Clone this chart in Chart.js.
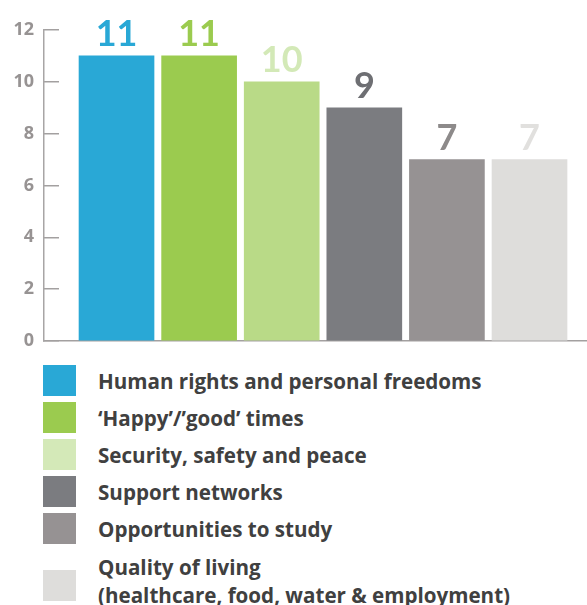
<!DOCTYPE html>
<html>
<head>
<meta charset="utf-8">
<script src="https://cdn.jsdelivr.net/npm/chart.js@4/dist/chart.umd.min.js"></script>
<style>
  html, body { margin: 0; background: #fff; overflow: hidden; }
  #wrap { position: relative; width: 587px; height: 360px; }
  #legend { position: absolute; left: 43px; top: 362px; margin: 0; padding: 0; list-style: none;
            font: bold 20.6px "Open Sans", sans-serif; color: #404040; }
  #legend li { display: flex; align-items: center; height: 37px; white-space: nowrap; }
  #legend .box { width: 33px; height: 31px; margin-right: 22px; flex: none; }
  #legend li.two { height: auto; margin-top: 6px; line-height: 28px; }
  #legend li.two .box { margin-top: 9px; }
</style>
</head>
<body>
<div id="wrap"><canvas id="chart" width="587" height="360"></canvas></div>
<ul id="legend"></ul>
<script>
const categories = [
  'Human rights and personal freedoms',
  '\u2018Happy\u2019/\u2019good\u2019 times',
  'Security, safety and peace',
  'Support networks',
  'Opportunities to study',
  ['Quality of living', '(healthcare, food, water & employment)']
];
const values = [11, 11, 10, 9, 7, 7];
const yTicks = [0, 2, 4, 6, 8, 10, 12];

const barColors = ['#29a8d6', '#9bcb4f', '#b9da87', '#7b7c80', '#969293', '#dedddb'];
const labelColors = ['#29a8d6', '#9bcb4f', '#d3e9b7', '#6e6f73', '#8d8a8a', '#e1e0de'];
const legendColors = ['#29a8d6', '#9bcb4f', '#d4e9b8', '#7b7c80', '#969293', '#dedddb'];

// numbers over the bars, same colour family as the bar
const valueLabels = {
  id: 'valueLabels',
  afterDatasetsDraw(chart) {
    const ctx = chart.ctx;
    const meta = chart.getDatasetMeta(0);
    ctx.save();
    ctx.font = 'bold 36px Lato, sans-serif';
    ctx.textAlign = 'center';
    ctx.textBaseline = 'alphabetic';
    meta.data.forEach((bar, i) => {
      ctx.fillStyle = labelColors[i];
      ctx.fillText(String(values[i]), bar.x, bar.y - 10);
    });
    ctx.restore();
  }
};

const chart = new Chart(document.getElementById('chart').getContext('2d'), {
  type: 'bar',
  data: {
    datasets: [{
      data: values.map((v, i) => ({ x: i, y: v })),
      backgroundColor: barColors,
      barThickness: 75
    }]
  },
  options: {
    responsive: false,
    animation: false,
    layout: { padding: { top: 30, bottom: 19, left: 0, right: 0 } },
    plugins: { legend: { display: false }, tooltip: { enabled: false } },
    scales: {
      x: {
        type: 'linear',
        offset: false,
        min: -0.878,
        max: 5.696,
        afterFit(s) { s.height = 0; },
        ticks: { display: false },
        grid: { display: false, drawTicks: false },
        border: { color: '#a3a0a0', width: 1.5 }
      },
      y: {
        min: yTicks[0],
        max: yTicks[yTicks.length - 1],
        afterBuildTicks(s) { s.ticks = yTicks.map(v => ({ value: v })); },
        // fixed axis width; labels may overhang top/bottom without shrinking the plot
        afterFit(s) { s.width = 44; s.paddingTop = 0; s.paddingBottom = 0; },
        ticks: { padding: 25, color: '#979393', font: { family: 'Open Sans', weight: 'bold', size: 18 } },
        grid: { drawOnChartArea: false, tickLength: -15, color: '#a3a0a0', lineWidth: 1.5 },
        border: { color: '#a8a5a5', width: 1.5 }
      }
    }
  },
  plugins: [valueLabels]
});

// legend list built from the same category/colour arrays
const ul = document.getElementById('legend');
categories.forEach((c, i) => {
  const li = document.createElement('li');
  const box = document.createElement('span');
  box.className = 'box';
  box.style.background = legendColors[i];
  li.appendChild(box);
  const txt = document.createElement('span');
  const lines = Array.isArray(c) ? c : [c];
  if (lines.length > 1) li.className = 'two';
  lines.forEach((l, k) => {
    if (k) txt.appendChild(document.createElement('br'));
    txt.appendChild(document.createTextNode(l));
  });
  li.appendChild(txt);
  ul.appendChild(li);
});
</script>
</body>
</html>
